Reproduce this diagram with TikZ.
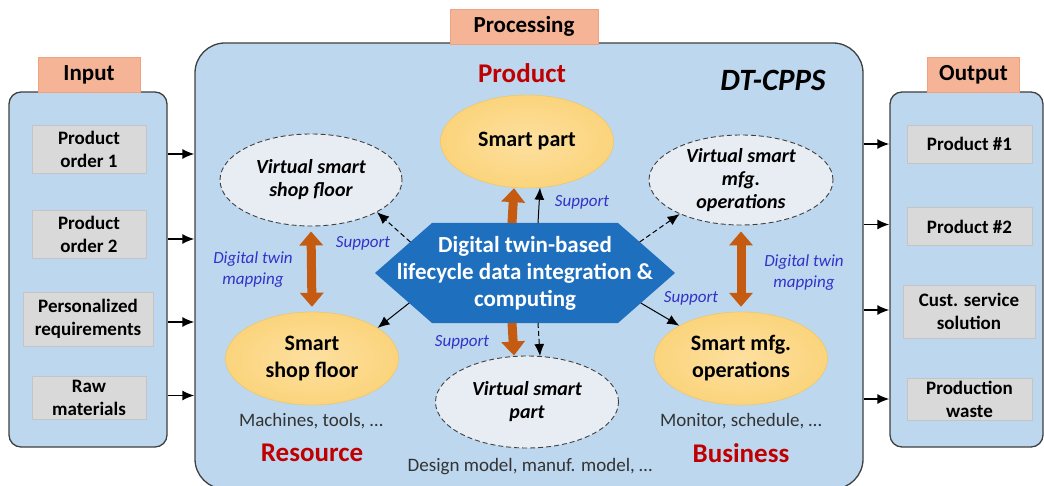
\documentclass[tikz,border=0pt]{standalone}
\usepackage{fontspec}
\setmainfont{Carlito}
\usetikzlibrary{arrows.meta,positioning,shapes.geometric,calc}
\definecolor{dtpanel}{HTML}{BDD7EE}
\definecolor{dtedge}{HTML}{404040}
\definecolor{dttab}{HTML}{F6B496}
\definecolor{dttabedge}{HTML}{EFA27F}
\definecolor{dtitem}{HTML}{D9D9D9}
\definecolor{dtitemedge}{HTML}{C4C4C4}
\definecolor{dtgold}{HTML}{FBD47C}
\definecolor{dtgoldlight}{HTML}{FDE0A0}
\definecolor{dtgoldedge}{HTML}{F1C44E}
\definecolor{dtvirt}{HTML}{E8EDF3}
\definecolor{dthub}{HTML}{1E6FBE}
\definecolor{dtorange}{HTML}{C55A11}
\definecolor{dtred}{HTML}{C00000}
\definecolor{dtsupport}{HTML}{3232C8}
\definecolor{dtnote}{HTML}{333333}

\begin{document}
\begin{tikzpicture}[x=1pt, y=-1pt,
    panel/.style={draw=dtedge, line width=1.3pt, fill=dtpanel, inner sep=0pt},
    tabbox/.style={draw=dttabedge, fill=dttab, inner sep=0pt, font=\fontsize{23}{26}\selectfont\bfseries},
    itembox/.style={draw=dtitemedge, fill=dtitem, inner sep=0pt, align=center, font=\fontsize{19}{23}\selectfont\bfseries},
    smart/.style={ellipse, draw=dtgoldedge, inner color=dtgoldlight, outer color=dtgold, inner sep=0pt, align=center, font=\fontsize{22}{27}\selectfont\bfseries},
    virtual/.style={ellipse, draw=dtedge, line width=0.9pt, dash pattern=on 5pt off 3pt, fill=dtvirt, inner sep=0pt, align=center, font=\fontsize{20}{23}\selectfont\bfseries\itshape},
    support/.style={text=dtsupport, font=\fontsize{17}{21}\selectfont\itshape},
    areaname/.style={text=dtred, font=\fontsize{27}{30}\selectfont\bfseries},
    note/.style={text=dtnote, font=\fontsize{19}{22}\selectfont},
    flow/.style={-{Latex[length=12pt,width=10pt]}, line width=1.5pt},
    link/.style={-{Latex[length=12pt,width=10pt]}, line width=1pt},
    dlink/.style={link, dash pattern=on 5pt off 3pt},
    twin/.style={draw=dtorange, line width=9pt, -{Triangle[length=14pt,width=23pt]}},
    twinboth/.style={twin, {Triangle[length=14pt,width=23pt]}-{Triangle[length=14pt,width=23pt]}}]
  \useasboundingbox (0,0) rectangle (1044,486);

  % input / processing / output panels
  \node[panel, rounded corners=12pt, minimum width=158pt, minimum height=355pt] (inbox) at (88,269.5) {};
  \node[panel, rounded corners=30pt, minimum width=668pt, minimum height=446pt] (cpps) at (529,266) {};
  \node[panel, rounded corners=12pt, minimum width=153pt, minimum height=355pt] (outbox) at (966.5,269.5) {};
  \node[tabbox, minimum width=102pt, minimum height=35pt] (intab) at (89,74.5) {Input};
  \node[tabbox, minimum width=148pt, minimum height=35pt] (proctab) at (524,26.5) {Processing};
  \node[tabbox, minimum width=92pt, minimum height=35pt] (outtab) at (973.5,74.5) {Output};

  % input items
  \node[itembox, minimum width=114pt, minimum height=48pt] (ord1) at (89,149) {Product\\order 1};
  \node[itembox, minimum width=114pt, minimum height=48pt] (ord2) at (89,234) {Product\\order 2};
  \node[itembox, minimum width=130pt, minimum height=54pt] (req) at (88,319) {Personalized\\requirements};
  \node[itembox, minimum width=114pt, minimum height=43pt] (raw) at (89,397.5) {Raw\\materials};

  % output items
  \node[itembox, minimum width=125pt, minimum height=38pt] (prod1) at (969.5,144) {Product \#1};
  \node[itembox, minimum width=125pt, minimum height=38pt] (prod2) at (969.5,226.5) {Product \#2};
  \node[itembox, minimum width=132pt, minimum height=53pt] (serv) at (969,311.5) {Cust. service\\solution};
  \node[itembox, minimum width=125pt, minimum height=42pt] (waste) at (969.5,399) {Production\\waste};

  \draw[flow] ([yshift=-5pt]inbox.east |- ord1) -- ([yshift=-5pt]cpps.west |- ord1);
  \draw[flow] ([yshift=-5pt]inbox.east |- ord2) -- ([yshift=-5pt]cpps.west |- ord2);
  \draw[flow] ([yshift=-3pt]inbox.east |- req) -- ([yshift=-3pt]cpps.west |- req);
  \draw[flow] ([yshift=2pt]inbox.east |- raw) -- ([yshift=2pt]cpps.west |- raw);
  \draw[flow] (cpps.east |- prod1) -- (outbox.west |- prod1);
  \draw[flow] ([yshift=2pt]cpps.east |- prod2) -- ([yshift=2pt]outbox.west |- prod2);
  \draw[flow] ([yshift=1.5pt]cpps.east |- serv) -- ([yshift=1.5pt]outbox.west |- serv);
  \draw[flow] (cpps.east |- waste) -- (outbox.west |- waste);

  % titles
  \node[areaname] (product) at (522,73) {Product};
  \node[font=\fontsize{31}{34}\selectfont\bfseries\itshape] (dtcpps) at (773,80) {DT-CPPS};
  \node[areaname] (resource) at (312,453) {Resource};
  \node[areaname] (business) at (741,453) {Business};

  % smart and virtual entities
  \node[smart, minimum width=173pt, minimum height=93pt] (spart) at (527,141.5) {Smart part};
  \node[virtual, minimum width=182pt, minimum height=92pt] (vfloor) at (311,180) {Virtual smart\\shop floor};
  \node[virtual, minimum width=184pt, minimum height=90pt] (vops) at (741,180) {Virtual smart\\mfg.\\operations};
  \node[smart, minimum width=173pt, minimum height=93pt] (sfloor) at (312,358.5) {Smart\\shop floor};
  \node[smart, minimum width=173pt, minimum height=93pt] (sops) at (741,358.5) {Smart mfg.\\operations};
  \node[virtual, minimum width=183pt, minimum height=92pt] (vpart) at (527,402) {Virtual smart\\part};

  \node[note] (machines) at (311,421) {Machines, tools, \dots};
  \node[note] (monitor) at (741,421) {Monitor, schedule, \dots};
  \node[note] (design) at (530,467) {Design model, manuf. model, \dots};

  % integration hub
  \coordinate (hW) at (375,273);
  \coordinate (hNW) at (432,223);
  \coordinate (hNE) at (618,223);
  \coordinate (hE) at (675,273);
  \coordinate (hSE) at (618,323);
  \coordinate (hSW) at (432,323);
  \fill[dthub] (hW) -- (hNW) -- (hNE) -- (hE) -- (hSE) -- (hSW) -- cycle;
  \node[text=white, align=center, font=\fontsize{23}{27}\selectfont\bfseries] (hub) at (525,273)
    {Digital twin-based\\lifecycle data integration \&\\computing};

  % support links
  \draw[twin] ([xshift=-13pt]hNW -| hub.north) -- ([xshift=-13pt]spart.south);
  \draw[link] ([xshift=13pt]hNW -| hub.north) -- ([xshift=13pt,yshift=0.5pt]spart.south);
  \draw[twin] ([xshift=-13pt]hSW -| hub.south) -- ([xshift=-13pt]vpart.north);
  \draw[dlink] ([xshift=13pt]hSW -| hub.south) -- ([xshift=13pt,yshift=-0.5pt]vpart.north);
  \draw[dlink] ($(hW)!0.62!(hNW)$) -- (vfloor.-26);
  \draw[dlink] ($(hE)!0.62!(hNE)$) -- (vops.209);
  \draw[link] ($(hW)!0.6!(hSW)$) -- (sfloor.25);
  \draw[link] ($(hE)!0.6!(hSE)$) -- (sops.152);
  \draw[twinboth, shorten <=1pt, shorten >=1pt] ([yshift=-4pt]vfloor.south) -- ([yshift=4pt]sfloor.north);
  \draw[twinboth, shorten <=1pt, shorten >=1pt] ([yshift=-5pt]vops.south) -- ([yshift=4pt]sops.north);

  \node[support] (sup1) at (582,202) {Support};
  \node[support] (sup2) at (363,243) {Support};
  \node[support] (sup3) at (462,342) {Support};
  \node[support] (sup4) at (691,298) {Support};
  \node[support, align=center] (map1) at (253,270) {Digital twin\\mapping};
  \node[support, align=center] (map2) at (804,273) {Digital twin\\mapping};
\end{tikzpicture}
\end{document}
